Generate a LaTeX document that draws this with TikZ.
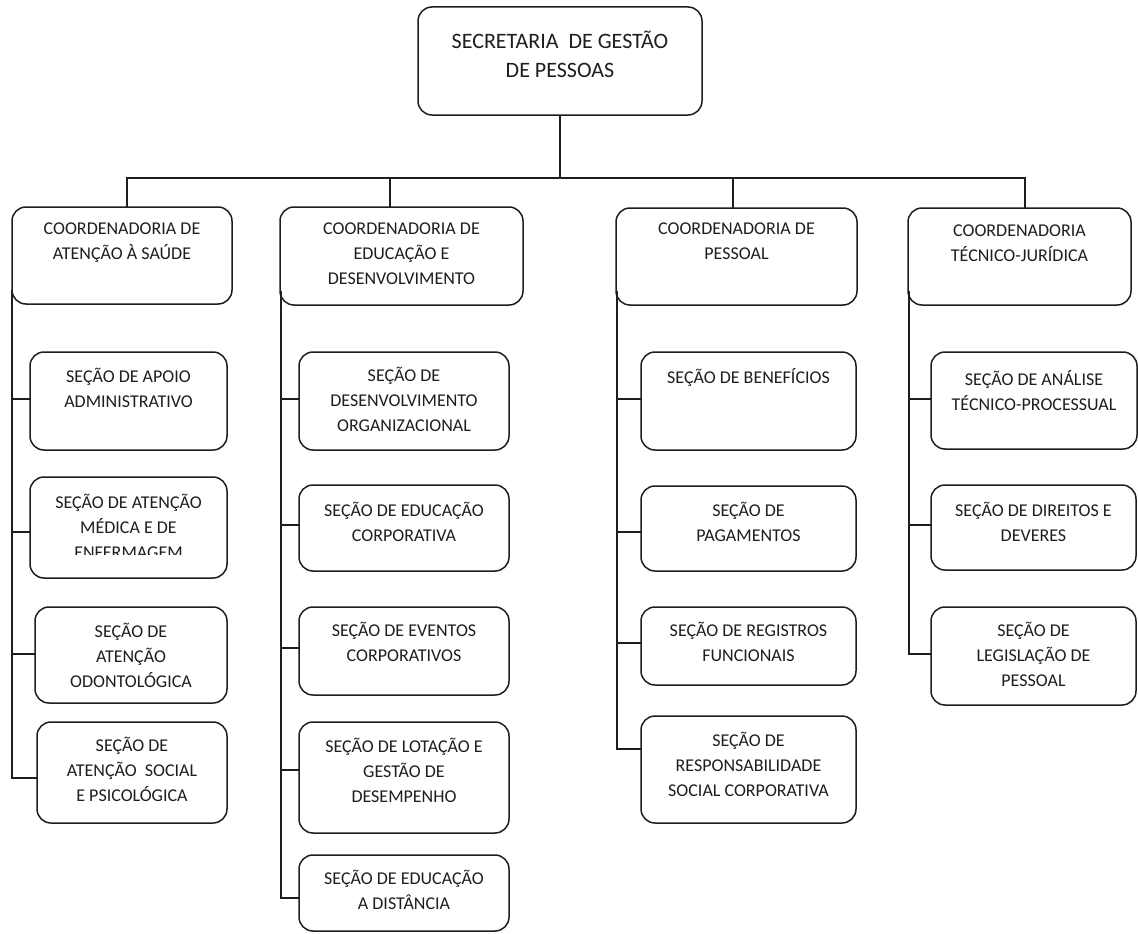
\documentclass[tikz,border=0pt]{standalone}
\usepackage{fontspec}
\setmainfont{Carlito}
\definecolor{ink}{HTML}{1E1E1E}
\definecolor{edge}{HTML}{1E1E1E}

% box with rounded corners, spanned between two corners (y grows downwards)
\newcommand\orgbox[8]{%
  \node[obox, minimum width={#5-#3}, minimum height={#6-#4}] (#2) at ({(#3+#5)/2},{(#4+#6)/2}) {};
  \node[#1] (#2-t) at ({(#3+#5)/2},{#7}) {#8};
}
% section box with its entry point for the connector
\newcommand\secbox[8]{%
  \orgbox{sectext}{#1}{#2}{#3}{#4}{#5}{#6}{#8}
  \coordinate (#1-in) at (#2,#7);
}

\begin{document}
\begin{tikzpicture}[x=1pt,y=-1pt,
  obox/.style={draw=edge, line width=1.5pt, rounded corners=14pt, inner sep=0pt, outer sep=0pt, fill=white},
  sectext/.style={text=ink, align=center, inner sep=0pt, anchor=north, yshift=10.2pt,
    font=\fontsize{18}{25}\selectfont, execute at begin node={\rule{0pt}{16pt}}},
  headtext/.style={text=ink, align=center, inner sep=0pt, anchor=north, yshift=11.9pt,
    font=\fontsize{22}{29}\selectfont, execute at begin node={\rule{0pt}{19pt}}},
  link/.style={draw=edge, line width=1.5pt}]
\useasboundingbox (0,0) rectangle (1138,934);
\fill[white] (0,0) rectangle (1138,934);

% top level
\orgbox{headtext}{top}{418}{7}{702}{115}{43}{SECRETARIA\ \ DE GESTÃO\\DE PESSOAS}

% coordinating units
\orgbox{sectext}{c1}{12}{207}{232}{304}{233}{COORDENADORIA DE\\ATENÇÃO À SAÚDE}
\orgbox{sectext}{c2}{280}{207}{523}{305}{233}{COORDENADORIA DE\\EDUCAÇÃO E\\DESENVOLVIMENTO}
\orgbox{sectext}{c3}{616}{208}{857}{305}{233}{COORDENADORIA DE\\PESSOAL}
\orgbox{sectext}{c4}{908}{208}{1131}{305}{235}{COORDENADORIA\\TÉCNICO-JURÍDICA}

% column 1
\secbox{s11}{30}{352}{227}{450}{378}{399}{SEÇÃO DE APOIO\\ADMINISTRATIVO}
\node[obox, minimum width=197, minimum height=101] (s12) at (128.5,527.5) {};
\coordinate (s12-in) at (30,532);
\begin{scope}
  % the text frame of this box is shorter than its last line
  \clip (30,470) rectangle (227,554);
  \node[sectext] (s12-t) at (128.5,504) {SEÇÃO DE ATENÇÃO\\MÉDICA E DE\\ENFERMAGEM};
\end{scope}
\secbox{s13}{35}{607}{227}{703}{633}{654}{SEÇÃO DE\\ATENÇÃO\\ODONTOLÓGICA}
\secbox{s14}{37}{722}{227}{823}{747}{778}{SEÇÃO DE\\ATENÇÃO\ \ SOCIAL\\E PSICOLÓGICA}

% column 2
\secbox{s21}{299}{352}{509}{450}{377}{399}{SEÇÃO DE\\DESENVOLVIMENTO\\ORGANIZACIONAL}
\secbox{s22}{299}{485}{509}{571}{512}{525}{SEÇÃO DE EDUCAÇÃO\\CORPORATIVA}
\secbox{s23}{299}{607}{509}{695}{632}{648}{SEÇÃO DE EVENTOS\\CORPORATIVOS}
\secbox{s24}{299}{722}{509}{833}{748}{770}{SEÇÃO DE LOTAÇÃO E\\GESTÃO DE\\DESEMPENHO}
\secbox{s25}{299}{855}{509}{931}{880}{898}{SEÇÃO DE EDUCAÇÃO\\A DISTÂNCIA}

% column 3
\secbox{s31}{641}{352}{856}{450}{377}{399}{SEÇÃO DE BENEFÍCIOS}
\secbox{s32}{641}{486}{856}{571}{512}{532}{SEÇÃO DE\\PAGAMENTOS}
\secbox{s33}{641}{607}{856}{685}{632}{643}{SEÇÃO DE REGISTROS\\FUNCIONAIS}
\secbox{s34}{641}{716}{856}{823}{742}{749}{SEÇÃO DE\\RESPONSABILIDADE\\SOCIAL CORPORATIVA}

% column 4
\secbox{s41}{931}{352}{1137}{449}{380}{399}{SEÇÃO DE ANÁLISE\\TÉCNICO-PROCESSUAL}
\secbox{s42}{931}{485}{1136}{570}{512}{525}{SEÇÃO DE DIREITOS E\\DEVERES}
\secbox{s43}{931}{607}{1136}{705}{632}{654}{SEÇÃO DE\\LEGISLAÇÃO DE\\PESSOAL}

% distribution bus below the top box
\coordinate (d1) at (127,178);
\coordinate (d2) at (390,178);
\coordinate (d3) at (733,178);
\coordinate (d4) at (1025,178);
\draw[link] (top.south) -- (top.south |- d1);
\draw[link] (d1 |- c1.north) -- (d1) -- (d4) -- (d4 |- c4.north);
\draw[link] (d2) -- (d2 |- c2.north);
\draw[link] (d3) -- (d3 |- c3.north);

% spines from each coordinating unit to its sections
\foreach \s in {s11,s12,s13,s14}
  \draw[link] ([yshift=14pt]c1.south west) |- (\s-in);
\foreach \s in {s21,s22,s23,s24,s25}
  \draw[link] ([xshift=1pt,yshift=14pt]c2.south west) |- (\s-in);
\foreach \s in {s31,s32,s33,s34}
  \draw[link] ([xshift=1pt,yshift=14pt]c3.south west) |- (\s-in);
\foreach \s in {s41,s42,s43}
  \draw[link] ([xshift=1pt,yshift=14pt]c4.south west) |- (\s-in);
\end{tikzpicture}
\end{document}
